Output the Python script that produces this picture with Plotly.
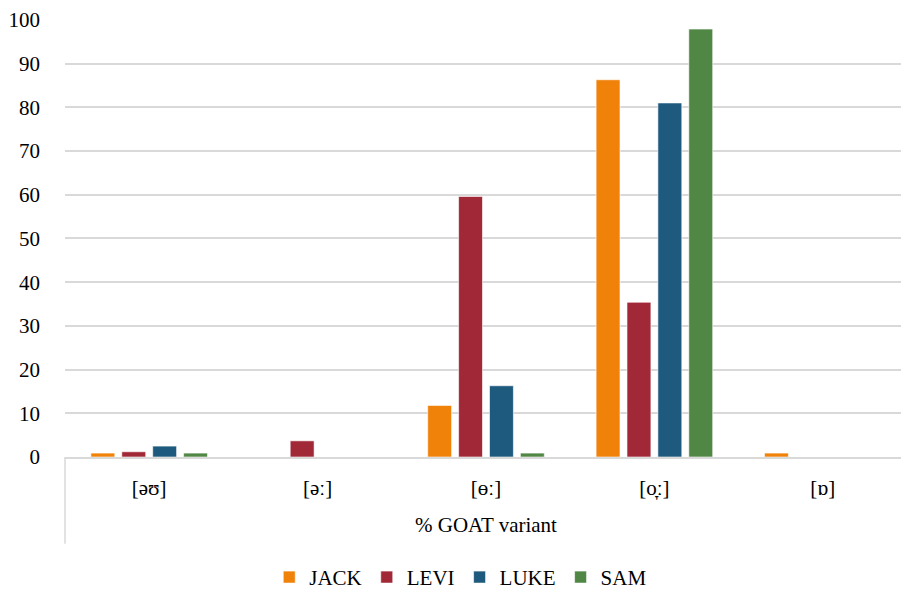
import plotly.graph_objects as go

categories = ["[əʊ]", "[əː]", "[ɵː]", "[o̞ː]", "[ɒ]"]
jack = [0.9, 0, 11.8, 86.3, 0.9]
levi = [1.2, 3.7, 59.6, 35.4, 0]
luke = [2.5, 0, 16.3, 81.0, 0]
sam = [0.9, 0, 0.9, 97.9, 0]
y_ticks = list(range(0, 101, 10))

series = [("JACK", jack, "#F0820A"), ("LEVI", levi, "#A02837"),
          ("LUKE", luke, "#1E5A7D"), ("SAM", sam, "#508745")]

FONT = "Liberation Serif, Times New Roman, serif"
fig = go.Figure()
for name, vals, col in series:
    fig.add_trace(go.Bar(name=name, x=categories, y=vals, marker_color=col,
                         marker_line=dict(color="rgba(255,255,255,0.6)", width=1)))

fig.update_layout(
    template="none",
    width=901, height=582,
    margin=dict(l=57, r=2, t=11, b=133, autoexpand=False),
    plot_bgcolor="white", paper_bgcolor="white",
    barmode="group", bargap=0.266, bargroupgap=0.226,
    font=dict(family=FONT, size=21, color="black"),
    legend=dict(orientation="h", x=0.47, xanchor="center", y=-0.275, yanchor="middle",
                font=dict(family=FONT, size=21, color="black"), itemwidth=30, traceorder="normal"),
    xaxis=dict(showline=True, linecolor="#d9d9d9", linewidth=1.5, ticks="", automargin=False,
               showgrid=False, zeroline=False, ticklabelstandoff=11,
               tickfont=dict(family=FONT, size=21, color="black"),
               title=dict(text="% GOAT variant", font=dict(family=FONT, size=21, color="black"), standoff=18)),
    yaxis=dict(range=[0, 100.2], tickvals=y_ticks, showgrid=True, gridcolor="#d9d9d9",
               gridwidth=1.5, zeroline=False, showline=False, ticks="", automargin=False,
               tickfont=dict(family=FONT, size=21, color="black"), ticklabelstandoff=24),
    shapes=[dict(type="line", xref="paper", yref="paper", x0=0, x1=0, y0=0, y1=-0.198,
                 line=dict(color="#d9d9d9", width=1.5))],
)
fig.write_html("out.html")
